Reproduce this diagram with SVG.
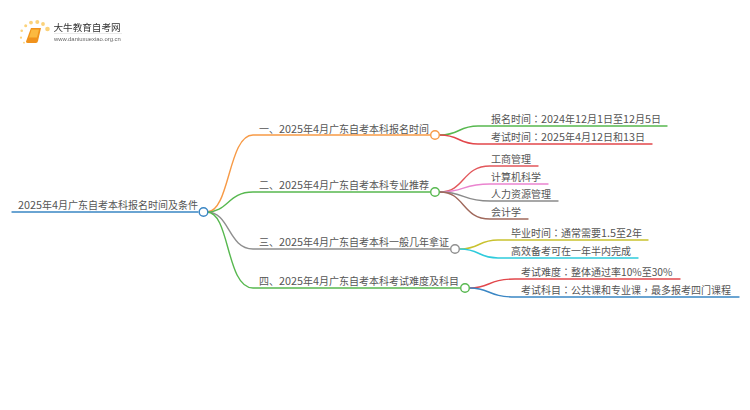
<svg xmlns="http://www.w3.org/2000/svg" width="750" height="410" viewBox="0 0 750 410">
<style>
text{font-family:"Noto Sans CJK SC","Liberation Sans",sans-serif;font-size:10px;fill:#555}
tspan.d{font-size:10.800px}
tspan.e{font-size:10.200px}
tspan.p{font-family:"Noto Sans CJK TC","Noto Sans CJK SC",sans-serif}
.c{fill:none;stroke-width:1.4;stroke-linecap:round}
.n{fill:#fff;stroke-width:1.4}
</style>
<defs><filter id="soft" x="-10%" y="-10%" width="120%" height="120%"><feGaussianBlur stdDeviation="0.35"/></filter></defs>
<rect width="750" height="410" fill="#fff"/>
<g id="logo" filter="url(#soft)">
<g fill="#fbd27a"><circle cx="47.500" cy="29" r="2.300"/><circle cx="43" cy="24" r="1.900"/><circle cx="37.300" cy="22" r="2"/><circle cx="31" cy="22.600" r="1.900"/><circle cx="25.700" cy="25.700" r="1.500"/><circle cx="21.700" cy="30.700" r="1.300"/><circle cx="21" cy="37.700" r="1.100"/><circle cx="24" cy="42.700" r=".9"/></g>
<path d="M31 28h10l-3 13q-.5 2-2 2h-8q-2 0-2-1.500z" fill="#f0921a"/>
<path d="M31.500 29.500h7.500l-2 8h-8z" fill="#fbb93f"/>
<text x="53.500" y="30.500" style="font-size:9.600px;fill:#333">大牛教育自考网</text>
<path d="M54 33.500h68" stroke="#ddd" stroke-width=".6"/>
<text x="54" y="41" style="font-size:5.900px;fill:#666;font-family:'Liberation Sans',sans-serif">www.daniuxuexiao.org.cn</text>
</g>
<g id="connectors">
<path class="c" d="M12 212H198" stroke="#3a86c4" stroke-width="1.700"/>
<path class="c" stroke="#f79a46" d="M207 212C230 212 228 135 253 135H430"/>
<path class="c" stroke="#57b84f" d="M207 212C228 212 228 192 253 192H430"/>
<path class="c" stroke="#8f8f8f" d="M207 212C230 212 228 249 253 249H450"/>
<path class="c" stroke="#57b84f" d="M207 212C230 212 226 288 253 288H460"/>
<path class="c" stroke="#57b84f" d="M440 135C460 135 458 126 478 126H667"/>
<path class="c" stroke="#e2474b" d="M440 135C460 135 458 144 478 144H652"/>
<path class="c" stroke="#e2575b" d="M440 192C465 192 462 166 490 166H538"/>
<path class="c" stroke="#ea84cf" d="M440 192C465 192 462 184 490 184H548"/>
<path class="c" stroke="#8a8a8a" d="M440 192C465 192 462 201 490 201H558"/>
<path class="c" stroke="#a0695c" d="M440 192C465 192 462 219 490 219H528"/>
<path class="c" stroke="#c9c22f" d="M460 249C480 249 478 240 498 240H648"/>
<path class="c" stroke="#2fcbdc" d="M460 249C480 249 478 258 498 258H638"/>
<path class="c" stroke="#e2474b" d="M470 288C490 288 488 279 515 279H680"/>
<path class="c" stroke="#3a86c4" d="M470 288C490 288 488 297 515 297H739"/>
</g>
<g id="root"><text x="18" y="209"><tspan class="d">2025</tspan>年<tspan class="d">4</tspan>月广东自考本科报名时间及条件</text><circle class="n" cx="203.500" cy="212" r="4.300" stroke="#3a86c4"/></g>
<g id="b1"><text x="259" y="133">一、<tspan class="d">2025</tspan>年<tspan class="d">4</tspan>月广东自考本科报名时间</text><circle class="n" cx="435" cy="135" r="4.300" stroke="#f79a46"/></g>
<g id="b2"><text x="259" y="189">二、<tspan class="d">2025</tspan>年<tspan class="d">4</tspan>月广东自考本科专业推荐</text><circle class="n" cx="435" cy="192" r="4.300" stroke="#57b84f"/></g>
<g id="b3"><text x="259" y="246">三、<tspan class="d">2025</tspan>年<tspan class="d">4</tspan>月广东自考本科一般几年拿证</text><circle class="n" cx="455" cy="249" r="4.300" stroke="#8f8f8f"/></g>
<g id="b4"><text x="259" y="285">四、<tspan class="d">2025</tspan>年<tspan class="d">4</tspan>月广东自考本科考试难度及科目</text><circle class="n" cx="465" cy="288" r="4.300" stroke="#57b84f"/></g>
<g id="l1"><text x="491" y="123">报名时间<tspan class="p">：</tspan><tspan class="d">2024</tspan>年<tspan class="d">12</tspan>月<tspan class="d">1</tspan>日至<tspan class="d">12</tspan>月<tspan class="d">5</tspan>日</text></g>
<g id="l2"><text x="491" y="141">考试时间<tspan class="p">：</tspan><tspan class="d">2025</tspan>年<tspan class="d">4</tspan>月<tspan class="d">12</tspan>日和<tspan class="d">13</tspan>日</text></g>
<g id="l3"><text x="491" y="162.500">工商管理</text></g>
<g id="l4"><text x="491" y="180.500">计算机科学</text></g>
<g id="l5"><text x="491" y="198">人力资源管理</text></g>
<g id="l6"><text x="491" y="216">会计学</text></g>
<g id="l7"><text x="511" y="237">毕业时间<tspan class="p">：</tspan>通常需要<tspan class="d">1.5</tspan>至<tspan class="d">2</tspan>年</text></g>
<g id="l8"><text x="511" y="255">高效备考可在一年半内完成</text></g>
<g id="l9"><text x="521" y="276">考试难度<tspan class="p">：</tspan>整体通过率<tspan class="e">10%</tspan>至<tspan class="e">30%</tspan></text></g>
<g id="l10"><text x="521" y="294">考试科目<tspan class="p">：</tspan>公共课和专业课<tspan class="p">，</tspan>最多报考四门课程</text></g>
</svg>
